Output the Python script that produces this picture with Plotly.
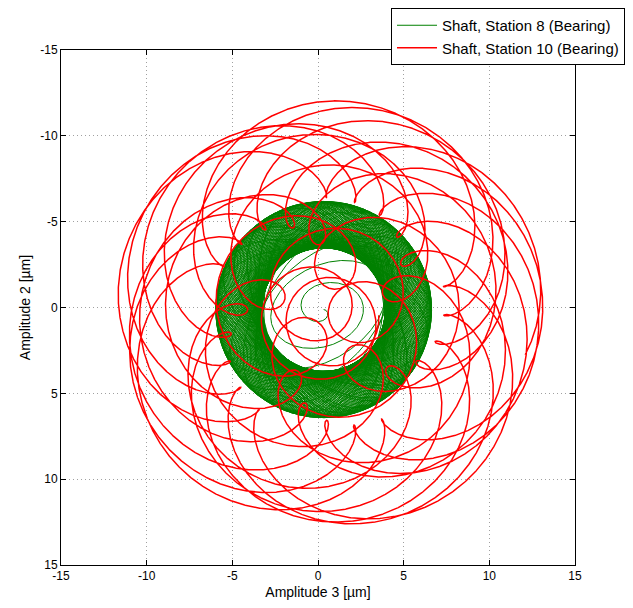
import numpy as np
import plotly.graph_objects as go

# ---- data (orbit parameters, micrometres) ----
tick_vals = [-15, -10, -5, 0, 5, 10, 15]
tick_text = ["-15", "-10", "-5", "0", "5", "10", "15"]

# Station 10: slow whirl (growing to final radius) + fast loop component
red_center = [0.7, 0.45]         # (Amplitude 3, Amplitude 2)
red_radii = [9.85, 2.85]         # slow whirl radius, loop radius
red_freqs = [1.0, 3.55]          # relative whirl frequencies
red_revs = 13.0                  # slow revolutions shown
red_ramp = 3.0                   # growth time constant (revolutions)

# Station 8: dense ring orbit growing from the centre
green_center = [0.33, 0.12]
green_radii = [4.95, 1.35]
green_freqs = [1.0, -1.09]
green_revs = 120
green_ramp = 1.8

# ---- build the orbit traces ----
tr = np.linspace(0, 2 * np.pi * red_revs, 36000)
a_r = red_radii[0] * (1 - np.exp(-tr / (2 * np.pi * red_ramp)))
zr = a_r * np.exp(1j * red_freqs[0] * tr) + red_radii[1] * np.exp(1j * red_freqs[1] * tr)
xr = red_center[0] + zr.real
yr = red_center[1] + zr.imag

tg = np.linspace(0, 2 * np.pi * green_revs, 40000)
g = 1 - np.exp(-tg / (2 * np.pi * green_ramp))
zg = (green_radii[0] * g * np.exp(1j * green_freqs[0] * tg)
      + green_radii[1] * g ** 2 * np.exp(1j * green_freqs[1] * tg))
xg = green_center[0] + zg.real
yg = green_center[1] + zg.imag

fig = go.Figure()
fig.add_trace(go.Scatter(x=xg, y=yg, mode="lines", name="Shaft, Station 8 (Bearing)",
                         line=dict(color="#008000", width=1)))
fig.add_trace(go.Scatter(x=xr, y=yr, mode="lines", name="Shaft, Station 10 (Bearing)",
                         line=dict(color="#ff0000", width=1.5)))

axis_common = dict(
    tickvals=tick_vals, ticktext=tick_text, showgrid=True,
    gridcolor="#a0a0a0", griddash="1px,3px", gridwidth=1,
    zeroline=False, showline=True, linecolor="black", linewidth=1,
    mirror="ticks", ticks="inside", ticklen=5, tickcolor="black",
    tickfont=dict(family="Liberation Sans, Arial", size=12, color="black"),
)

fig.update_layout(
    width=633, height=608,
    margin=dict(l=53, r=66, t=42, b=51, autoexpand=False),
    paper_bgcolor="white", plot_bgcolor="white",
    font=dict(family="Liberation Sans, Arial", size=13, color="black"),
    xaxis=dict(range=[-15, 15], title=dict(text="Amplitude 3 [µm]", standoff=4,
               font=dict(size=14)), **axis_common),
    yaxis=dict(range=[15, -15], title=dict(text="Amplitude 2 [µm]", standoff=6,
               font=dict(size=14)), **axis_common),
    legend=dict(xref="container", yref="container", x=617 / 633, y=1.0 + 3 / 608,
                xanchor="right", yanchor="top", bgcolor="white",
                bordercolor="black", borderwidth=1,
                font=dict(family="Liberation Sans, Arial", size=15),
                tracegroupgap=0, itemwidth=40),
    showlegend=True,
)

fig.write_html("out.html")
